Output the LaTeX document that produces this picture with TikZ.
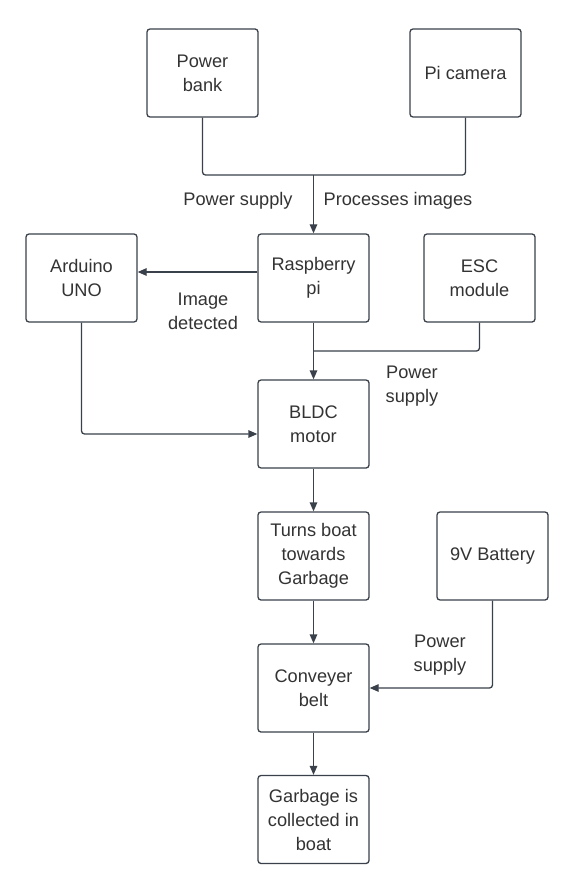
\documentclass[tikz,border=0pt]{standalone}
\usepackage{fontspec}
\setmainfont{Liberation Sans}
\usepackage{tikz}
\usetikzlibrary{arrows.meta, positioning}

\definecolor{linegray}{HTML}{3A414A}
\definecolor{textgray}{HTML}{333333}

\begin{document}
\begin{tikzpicture}[x=1pt, y=-1pt,
		block/.style={draw=linegray, line width=1.3pt, rounded corners=3pt, minimum width=111pt, minimum height=88pt, inner sep=2pt, align=center, text=textgray, font=\fontsize{18.2}{24}\selectfont},
		lbl/.style={align=center, text=textgray, font=\fontsize{18.2}{24}\selectfont},
		wire/.style={draw=linegray, line width=1.3pt, rounded corners=3pt},
		flow/.style={wire, -{Triangle[length=9pt, width=7.5pt]}}]
		% Keep the page the size of the reference
		\useasboundingbox[fill=white] (0,0) rectangle (576,893);
		
		% 1. Boxes
		\node[block] (bank) at (202.5,73) {Power\\bank};
		\node[block] (cam) at (465.5,73) {Pi camera};
		\node[block] (ard) at (81.5,278) {Arduino\\UNO};
		\node[block] (rpi) at (313.5,278) {Raspberry\\pi};
		\node[block] (esc) at (479.5,278) {ESC\\module};
		\node[block] (bldc) at (313.5,424) {BLDC\\motor};
		\node[block] (turn) at (313.5,556) {Turns boat\\towards\\Garbage};
		\node[block] (bat) at (492.5,556) {9V Battery};
		\node[block] (belt) at (313.5,688) {Conveyer\\belt};
		\node[block] (garb) at (313.5,819.5) {Garbage is\\collected in\\boat};
		
		% 2. Junctions of the merged lines
		\coordinate (J1) at (313.5,175);
		\coordinate (J2) at (313.5,351);
		
		% 3. Connectors
		\draw[wire] (bank.south) |- (J1) -| (cam.south);
		\draw[flow] (J1) -- (rpi.north);
		\draw[flow] ([yshift=6pt]rpi.west) -- ([yshift=6pt]ard.east);
		\draw[flow] (rpi.south) -- (bldc.north);
		\draw[wire] (esc.south) |- (J2);
		\draw[flow] (ard.south) |- ([yshift=-10pt]bldc.west);
		\draw[flow] (bldc.south) -- (turn.north);
		\draw[flow] (turn.south) -- (belt.north);
		\draw[flow] (bat.south) |- (belt.east);
		\draw[flow] (belt.south) -- (garb.north);
		
		% 4. Labels on the connectors
		\node[lbl] (ps1) at (238,201) {Power supply};
		\node[lbl] (proc) at (398,201) {Processes images};
		\node[lbl] (det) at (203,311) {Image\\detected};
		\node[lbl] (ps2) at (412,386) {Power\\supply};
		\node[lbl] (ps3) at (440,655) {Power\\supply};
		
	\end{tikzpicture}
\end{document}
